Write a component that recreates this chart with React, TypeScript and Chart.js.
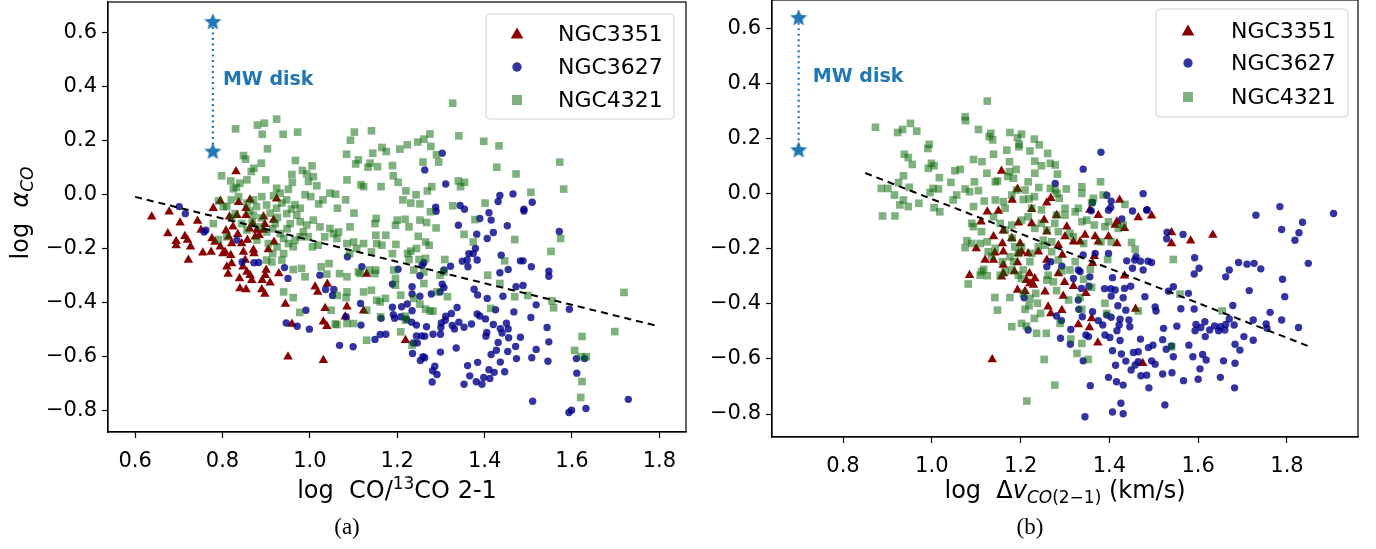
import React, { useEffect, useRef } from 'react';
import { Chart, registerables } from 'chart.js';
Chart.register(...registerables);

type P = [number, number];

// ---------- tick labels ----------
const yTickValues = [-0.8, -0.6, -0.4, -0.2, 0.0, 0.2, 0.4, 0.6];
const xTickValuesA = [0.6, 0.8, 1.0, 1.2, 1.4, 1.6, 1.8];
const xTickValuesB = [0.8, 1.0, 1.2, 1.4, 1.6, 1.8];
const seriesNames = ['NGC3351', 'NGC3627', 'NGC4321'];

// ---------- MW disk ----------
const mwY = [0.64, 0.16];
const mwXA = [0.778, 0.778];
const mwXB = [0.70, 0.70];
const mwLabelA: P = [0.801, 0.423];
const mwLabelB: P = [0.732, 0.423];

// ---------- fit lines ----------
const fitA: P[] = [[0.6, -0.01], [1.8, -0.49]];
const fitB: P[] = [[0.85, 0.075], [1.85, -0.555]];

// ---------- panel (a): log CO/13CO ----------
const aNGC3351: P[] = [
  [0.831,0.084],[0.795,-0.025],[0.837,-0.030],[0.863,-0.021],[0.924,-0.017],[0.779,-0.052],[0.854,-0.052],
  [0.638,-0.084],[0.678,-0.065],[0.703,-0.106],[0.743,-0.099],[0.675,-0.146],[0.694,-0.174],[0.694,-0.190],
  [0.714,-0.156],[0.720,-0.170],[0.727,-0.195],[0.722,-0.244],[0.751,-0.133],[0.755,-0.217],[0.774,-0.214],
  [0.776,-0.164],[0.783,-0.177],[0.795,-0.195],[0.801,-0.220],[0.806,-0.214],[0.816,-0.084],[0.824,-0.121],
  [0.814,-0.158],[0.821,-0.183],[0.819,-0.226],[0.821,-0.257],[0.810,-0.269],[0.813,-0.296],[0.839,-0.312],
  [0.840,-0.349],[0.854,-0.353],[0.848,-0.214],[0.852,-0.244],[0.847,-0.269],[0.856,-0.288],[0.863,-0.300],
  [0.867,-0.319],[0.871,-0.207],[0.875,-0.158],[0.879,-0.133],[0.833,-0.078],[0.854,-0.078],[0.869,-0.109],
  [0.894,-0.084],[0.897,-0.111],[0.894,-0.133],[0.917,-0.096],[0.918,-0.177],[0.900,-0.281],[0.898,-0.300],
  [0.891,-0.319],[0.909,-0.328],[0.890,-0.353],[0.897,-0.370],[0.929,-0.294],[0.872,-0.220],[0.857,-0.170],
  [0.844,-0.183],[0.944,-0.407],[0.959,-0.481],[0.950,-0.602],[1.031,-0.615],[1.012,-0.343],[1.018,-0.362],
  [1.040,-0.333],[1.035,-0.423],[1.085,-0.417],[1.081,-0.454],[1.031,-0.473],[1.039,-0.489],[1.123,-0.432],
  [1.130,-0.296],[1.219,-0.541],[0.862,-0.128],[0.884,-0.152],[0.808,-0.135],[0.835,-0.148],[0.905,-0.205],
];
const aNGC3627: P[] = [
  [0.701,-0.046],[1.303,0.152],[1.263,0.090],[1.311,0.038],[1.435,-0.005],[1.431,-0.027],[1.465,0.001],
  [1.509,-0.030],[1.490,-0.056],[1.288,-0.048],[1.344,-0.042],[1.354,-0.056],
  [0.715,-0.072],[0.758,-0.140],[0.762,-0.133],[0.833,-0.170],[0.845,-0.251],[0.872,-0.254],[0.883,-0.253],
  [0.942,-0.272],[0.950,-0.312],[0.991,-0.430],[0.946,-0.477],[0.971,-0.489],[0.999,-0.500],[1.023,-0.300],
  [1.036,-0.353],[1.055,-0.353],[1.052,-0.375],[1.086,-0.232],[1.119,-0.269],[1.116,-0.405],[1.117,-0.485],
  [1.083,-0.454],[1.068,-0.560],[1.099,-0.565],[1.149,-0.538],[1.161,-0.520],[1.174,-0.519],[1.163,-0.460],
  [1.289,-0.063],[1.340,-0.115],[1.389,-0.090],[1.410,-0.069],[1.415,-0.096],[1.452,-0.117],[1.490,-0.062],
  [1.382,-0.148],[1.420,-0.142],[1.406,-0.164],[1.379,-0.201],[1.374,-0.220],[1.364,-0.220],[1.360,-0.244],
  [1.349,-0.248],[1.362,-0.269],[1.383,-0.244],[1.322,-0.267],[1.307,-0.281],[1.261,-0.254],[1.257,-0.263],
  [1.202,-0.278],[1.252,-0.302],[1.234,-0.343],[1.303,-0.333],[1.307,-0.346],[1.298,-0.362],[1.278,-0.370],
  [1.252,-0.378],[1.234,-0.370],[1.376,-0.352],[1.384,-0.373],[1.406,-0.386],[1.438,-0.226],[1.435,-0.291],
  [1.454,-0.279],[1.482,-0.247],[1.488,-0.247],[1.507,-0.269],[1.547,-0.285],[1.547,-0.304],[1.571,-0.138],
  [1.472,-0.343],[1.488,-0.338],[1.442,-0.378],[1.518,-0.410],[1.594,-0.426],[1.425,-0.428],[1.467,-0.436],
  [1.506,-0.457],[1.543,-0.494],[1.547,-0.547],[1.518,-0.575],[1.508,-0.606],[1.545,-0.619],[1.473,-0.609],
  [1.471,-0.564],[1.453,-0.583],[1.482,-0.530],[1.455,-0.532],[1.450,-0.478],[1.454,-0.499],[1.436,-0.498],
  [1.440,-0.514],[1.420,-0.483],[1.405,-0.512],[1.403,-0.526],[1.431,-0.549],[1.427,-0.578],[1.415,-0.594],
  [1.436,-0.622],[1.446,-0.658],[1.422,-0.660],[1.410,-0.650],[1.412,-0.683],[1.398,-0.679],[1.394,-0.704],
  [1.381,-0.695],[1.366,-0.673],[1.353,-0.704],[1.384,-0.623],[1.361,-0.635],[1.402,-0.462],[1.389,-0.451],
  [1.383,-0.444],[1.370,-0.481],[1.353,-0.493],[1.341,-0.474],[1.337,-0.420],[1.324,-0.442],[1.311,-0.452],
  [1.310,-0.467],[1.301,-0.477],[1.300,-0.494],[1.299,-0.519],[1.326,-0.486],[1.331,-0.499],[1.282,-0.519],
  [1.267,-0.491],[1.263,-0.526],[1.256,-0.525],[1.244,-0.525],[1.244,-0.485],[1.233,-0.474],[1.221,-0.463],
  [1.208,-0.454],[1.194,-0.460],[1.191,-0.446],[1.210,-0.417],[1.223,-0.407],[1.189,-0.419],[1.246,-0.551],
  [1.235,-0.590],[1.237,-0.551],[1.259,-0.602],[1.253,-0.616],[1.263,-0.606],[1.299,-0.585],[1.335,-0.570],
  [1.286,-0.637],[1.281,-0.654],[1.291,-0.668],[1.280,-0.696],[1.234,-0.432],[1.189,-0.333],[1.510,-0.767],
  [1.593,-0.809],[1.599,-0.800],[1.632,-0.794],[1.729,-0.760],[1.610,-0.609],[1.611,-0.663],[1.629,-0.609],
];
const aNGC4321: P[] = [
  [0.924,0.278],[0.896,0.263],[0.880,0.256],[0.830,0.242],[0.891,0.222],[0.939,0.222],[0.972,0.230],
  [0.903,0.168],[0.848,0.143],[0.853,0.130],[0.889,0.115],[0.872,0.096],[0.866,0.084],[0.798,0.068],
  [0.819,0.049],[0.832,0.025],[0.825,0.020],[0.840,0.041],[0.856,0.053],[0.899,0.053],[0.924,0.022],
  [0.951,0.018],[0.967,0.125],[1.005,0.105],[0.983,0.088],[0.959,0.073],[0.993,0.075],[1.008,0.065],
  [0.960,0.044],[0.997,0.047],[1.016,0.031],[1.046,0.004],[1.059,0.000],[1.082,-0.021],[1.063,-0.052],
  [1.084,0.148],[1.102,0.230],[1.141,0.235],[1.093,0.200],[1.111,0.127],[1.144,0.152],[1.165,0.173],
  [1.175,0.158],[1.105,0.112],[1.138,0.115],[1.133,0.100],[1.155,0.102],[1.085,0.053],[1.117,0.035],
  [1.123,0.028],[1.163,0.028],[0.989,-0.002],[1.002,-0.009],[1.030,-0.021],[1.020,-0.036],[0.966,-0.039],
  [0.978,-0.052],[0.947,-0.021],[0.936,-0.033],[0.917,-0.006],[0.932,0.004],[0.890,-0.009],[0.871,-0.021],
  [0.878,-0.046],[0.901,-0.040],[0.924,-0.052],[0.856,-0.033],[0.837,-0.009],[0.820,-0.021],[0.810,-0.046],
  [0.791,-0.025],[0.802,-0.046],
  [1.327,0.337],[1.275,0.223],[1.261,0.204],[1.247,0.193],[1.223,0.183],[1.206,0.167],[1.277,0.177],
  [1.341,0.216],[1.398,0.196],[1.433,0.179],[1.290,0.146],[1.295,0.119],[1.259,0.119],[1.189,0.106],
  [1.191,0.068],[1.202,0.044],[1.220,0.012],[1.243,-0.002],[1.269,0.012],[1.279,0.028],[1.340,0.049],
  [1.354,0.044],[1.345,0.028],[1.428,0.100],[1.472,0.075],[1.572,0.119],[1.581,0.019],[1.506,0.007],
  [1.401,-0.033],[1.327,-0.043],[1.213,-0.021],[1.231,-0.033],[1.252,-0.036],
  [0.779,-0.109],[0.791,-0.168],[0.810,-0.158],[0.829,-0.072],[0.844,-0.109],[0.856,-0.133],[0.871,-0.078],
  [0.879,-0.170],[0.886,-0.121],[0.901,-0.140],[0.905,-0.183],[0.915,-0.220],[0.901,-0.244],[0.913,-0.251],
  [0.932,-0.146],[0.940,-0.164],[0.951,-0.183],[0.962,-0.195],[0.940,-0.220],[0.936,-0.244],[0.947,-0.072],
  [0.970,-0.078],[0.978,-0.102],[0.993,-0.114],[1.008,-0.096],[1.023,-0.121],[1.046,-0.127],[1.054,-0.146],
  [1.066,-0.140],[1.092,-0.121],[1.062,-0.164],[1.019,-0.189],[1.006,-0.195],[0.981,-0.275],[0.989,-0.306],
  [0.962,-0.279],[1.026,-0.269],[1.044,-0.257],[1.039,-0.296],[1.068,-0.294],[1.085,-0.306],[1.085,-0.362],
  [1.083,-0.383],[1.063,-0.375],[0.940,-0.362],[0.962,-0.383],[0.977,-0.438],[1.049,-0.430],[1.058,-0.481],
  [1.062,-0.483],[1.085,-0.479],[1.100,-0.479],[1.130,-0.541],[1.130,-0.430],[1.123,-0.362],[1.141,-0.356],
  [1.153,-0.393],[1.161,-0.399],[1.173,-0.386],[1.162,-0.454],[1.149,-0.294],[1.151,-0.281],[1.136,-0.281],
  [1.115,-0.294],[1.100,-0.177],[1.085,-0.183],[1.091,-0.220],[1.107,-0.201],[1.123,-0.183],[1.141,-0.214],
  [1.153,-0.183],[1.165,-0.189],[1.174,-0.152],[1.151,-0.152],[1.149,-0.109],[1.152,-0.090],[1.111,-0.288],
  [0.985,-0.140],[0.955,-0.109],[0.921,-0.109],[0.978,-0.158],[0.966,-0.170],[0.925,-0.195],[1.101,-0.070],
  [0.909,-0.070],[0.862,-0.062],[0.889,-0.088],[0.915,-0.128],[0.948,-0.128],[0.996,-0.158],[1.034,-0.158],
  [0.926,-0.086],[0.958,-0.055],[0.868,-0.104],[0.821,-0.089],
  [1.200,-0.096],[1.218,-0.093],[1.196,-0.115],[1.227,-0.121],[1.252,-0.096],[1.267,-0.105],[1.289,-0.125],
  [1.276,-0.065],[1.248,-0.156],[1.265,-0.177],[1.273,-0.189],[1.197,-0.186],[1.189,-0.220],[1.224,-0.220],
  [1.231,-0.211],[1.244,-0.201],[1.227,-0.242],[1.250,-0.242],[1.265,-0.238],[1.309,-0.242],[1.238,-0.281],
  [1.261,-0.288],[1.307,-0.288],[1.298,-0.300],[1.192,-0.281],[1.196,-0.312],[1.261,-0.331],[1.196,-0.337],
  [1.208,-0.374],[1.238,-0.386],[1.252,-0.407],[1.315,-0.380],[1.291,-0.362],[1.265,-0.426],[1.275,-0.433],
  [1.282,-0.433],[1.219,-0.452],[1.219,-0.467],[1.208,-0.510],[1.234,-0.559],[1.353,-0.149],[1.374,-0.177],
  [1.378,-0.094],[1.407,-0.300],[1.435,-0.331],[1.446,-0.247],[1.469,-0.168],[1.469,-0.380],[1.499,-0.375],
  [1.414,-0.423],[1.552,-0.212],[1.574,-0.164],[1.554,-0.395],[1.558,-0.421],[1.719,-0.364],[1.698,-0.509],
  [1.623,-0.527],[1.606,-0.579],[1.621,-0.602],[1.633,-0.602],[1.623,-0.694],[1.620,-0.753],
];

// ---------- panel (b): log Δv ----------
const bNGC3351: P[] = [
  [1.157,0.082],[1.193,0.017],[1.181,-0.023],[1.259,-0.033],[1.268,-0.017],[1.225,-0.057],
  [1.423,-0.023],[1.356,-0.059],
  [1.125,-0.066],[1.150,-0.063],[1.111,-0.102],[1.161,-0.135],[1.139,-0.156],[1.100,-0.199],[1.159,-0.181],
  [1.161,-0.211],[1.142,-0.215],[1.120,-0.241],[1.139,-0.241],[1.195,-0.106],[1.180,-0.162],[1.199,-0.181],
  [1.202,-0.211],[1.195,-0.217],[1.217,-0.217],[1.240,-0.211],[1.225,-0.108],[1.253,-0.096],[1.259,-0.138],
  [1.259,-0.241],[1.161,-0.259],[1.193,-0.250],[1.186,-0.283],[1.161,-0.290],[1.157,-0.302],[1.085,-0.296],
  [1.220,-0.290],[1.232,-0.308],[1.221,-0.326],[1.229,-0.332],[1.213,-0.314],[1.193,-0.350],[1.210,-0.354],
  [1.255,-0.356],[1.262,-0.411],[1.268,-0.435],[1.136,-0.602],
  [1.495,-0.080],[1.465,-0.087],[1.540,-0.141],[1.540,-0.181],[1.583,-0.171],[1.633,-0.150],[1.417,-0.102],
  [1.434,-0.126],[1.434,-0.298],[1.459,-0.419],[1.475,-0.616],[1.374,-0.541],[1.355,-0.486],[1.360,-0.453],
  [1.330,-0.475],[1.293,-0.423],[1.347,-0.362],[1.319,-0.336],[1.296,-0.372],[1.299,-0.322],[1.366,-0.227],
  [1.362,-0.253],[1.294,-0.223],[1.285,-0.290],[1.300,-0.156],[1.319,-0.175],[1.334,-0.175],[1.345,-0.150],
  [1.368,-0.156],[1.375,-0.175],[1.398,-0.156],[1.417,-0.181],[1.413,-0.114],[1.375,-0.078],[1.281,-0.078],
  [1.304,-0.120],[1.285,-0.187],
];
const bNGC3627: P[] = [
  [1.278,0.037],[1.381,0.150],[1.341,0.089],[1.394,-0.006],[1.404,-0.027],[1.362,-0.032],[1.403,-0.050],
  [1.476,0.000],[1.485,-0.058],[1.359,-0.062],[1.784,-0.047],[1.428,-0.092],
  [1.268,-0.247],[1.259,-0.265],[1.208,-0.378],[1.217,-0.495],
  [1.398,-0.060],[1.452,-0.063],[1.484,-0.060],[1.730,-0.078],[1.905,-0.072],[1.788,-0.130],[1.835,-0.104],
  [1.827,-0.142],[1.818,-0.169],[1.848,-0.253],[1.790,-0.311],[1.795,-0.374],[1.715,-0.352],[1.762,-0.431],
  [1.788,-0.459],[1.826,-0.486],[1.753,-0.473],[1.755,-0.489],[1.724,-0.459],[1.724,-0.532],[1.703,-0.519],
  [1.694,-0.568],[1.683,-0.547],[1.683,-0.616],[1.682,-0.705],[1.681,-0.477],[1.678,-0.406],[1.670,-0.455],
  [1.662,-0.475],[1.660,-0.495],[1.650,-0.483],[1.646,-0.498],[1.637,-0.480],[1.626,-0.495],[1.616,-0.519],
  [1.606,-0.486],[1.615,-0.465],[1.595,-0.475],[1.593,-0.498],[1.591,-0.419],[1.657,-0.607],[1.650,-0.667],
  [1.610,-0.584],[1.618,-0.604],[1.604,-0.636],[1.600,-0.674],[1.588,-0.592],[1.579,-0.550],[1.567,-0.679],
  [1.691,-0.250],[1.710,-0.256],[1.726,-0.253],[1.741,-0.273],[1.670,-0.277],[1.662,-0.302],[1.602,-0.271],
  [1.591,-0.292],[1.592,-0.233],[1.578,-0.362],[1.561,-0.418],[1.552,-0.481],[1.544,-0.338],[1.533,-0.354],
  [1.522,-0.489],[1.520,-0.530],[1.528,-0.565],[1.540,-0.553],[1.544,-0.592],[1.541,-0.650],[1.520,-0.655],
  [1.525,-0.767],[1.503,-0.411],[1.505,-0.426],[1.480,-0.374],[1.495,-0.250],[1.487,-0.245],[1.470,-0.245],
  [1.476,-0.277],[1.457,-0.241],[1.460,-0.229],[1.452,-0.271],[1.448,-0.336],[1.439,-0.244],[1.434,-0.344],
  [1.431,-0.378],[1.407,-0.305],[1.413,-0.350],[1.403,-0.345],[1.389,-0.345],[1.404,-0.372],[1.419,-0.407],
  [1.437,-0.423],[1.424,-0.456],[1.422,-0.477],[1.446,-0.483],[1.444,-0.459],[1.417,-0.498],[1.404,-0.449],
  [1.394,-0.441],[1.385,-0.477],[1.375,-0.461],[1.362,-0.429],[1.339,-0.447],[1.331,-0.420],[1.330,-0.386],
  [1.313,-0.493],[1.290,-0.525],[1.312,-0.547],[1.347,-0.513],[1.353,-0.519],[1.390,-0.513],[1.401,-0.522],
  [1.424,-0.533],[1.470,-0.528],[1.488,-0.559],[1.498,-0.550],[1.465,-0.574],[1.454,-0.577],[1.427,-0.582],
  [1.407,-0.570],[1.437,-0.608],[1.414,-0.623],[1.465,-0.610],[1.458,-0.622],[1.449,-0.640],[1.471,-0.661],
  [1.484,-0.659],[1.495,-0.607],[1.503,-0.619],[1.489,-0.705],[1.431,-0.695],[1.416,-0.683],[1.398,-0.667],
  [1.357,-0.697],[1.426,-0.761],[1.407,-0.793],[1.431,-0.799],[1.345,-0.810],[1.341,-0.607],[1.356,-0.302],
  [1.354,-0.336],[1.341,-0.223],[1.368,-0.217],[1.398,-0.217],[1.334,-0.283],[1.337,-0.344],[1.292,-0.461],
  [1.281,-0.444],[1.293,-0.263],[1.319,-0.308],[1.330,-0.277],[1.530,-0.140],[1.529,-0.164],[1.566,-0.148],
];
const bNGC4321: P[] = [
  [1.125,0.336],[1.075,0.279],[1.076,0.265],[0.873,0.241],[0.952,0.255],[0.934,0.233],[0.923,0.222],
  [0.966,0.227],[1.105,0.233],[1.133,0.219],[1.129,0.207],[1.137,0.195],[1.176,0.222],[1.202,0.216],
  [1.193,0.203],[1.231,0.198],[1.197,0.179],[1.196,0.170],[1.242,0.177],[1.169,0.158],[1.221,0.155],
  [1.261,0.146],[0.994,0.179],[0.991,0.164],[0.938,0.143],[0.947,0.131],[0.956,0.106],[1.139,0.143],
  [1.094,0.124],[1.113,0.116],[1.175,0.116],[1.232,0.118],[1.247,0.101],[1.267,0.110],[0.999,0.110],
  [1.005,0.101],[0.992,0.092],[1.052,0.083],[1.064,0.088],[1.017,0.058],[0.936,0.065],[1.124,0.074],
  [1.175,0.080],[1.190,0.088],[1.148,0.046],[1.143,0.043],[1.171,0.062],[1.184,0.056],[1.232,0.074],
  [1.217,0.043],[0.925,0.040],[0.886,0.019],[0.901,0.019],[0.949,0.023],[1.003,0.019],[1.015,0.017],
  [0.996,0.004],[1.043,0.041],[1.075,0.017],[1.096,0.043],[1.085,0.007],[1.105,0.011],[1.056,-0.005],
  [0.916,-0.005],[0.936,-0.023],[0.928,-0.041],[0.947,-0.047],[0.971,-0.035],[1.005,-0.051],[1.048,-0.023],
  [1.094,-0.047],[1.118,-0.027],[1.143,-0.023],[1.161,-0.029],[1.180,-0.005],[1.191,0.013],[1.210,0.013],
  [1.206,-0.021],[1.219,-0.019],[1.231,-0.011],[1.241,0.022],[1.267,0.019],[1.165,-0.053],[1.247,-0.059],
  [1.225,-0.053],
  [1.278,0.104],[1.283,0.071],[1.278,0.013],[1.282,0.001],[1.287,-0.017],[1.303,0.017],[1.338,0.025],
  [1.338,0.001],[1.380,0.043],[1.386,-0.005],[1.364,-0.017],[1.360,-0.033],[1.435,-0.039],[1.300,-0.053],
  [1.330,-0.053],
  [0.889,-0.081],[0.917,-0.081],[1.018,-0.066],[1.090,-0.108],[1.094,-0.120],[1.112,-0.138],[1.079,-0.171],
  [1.075,-0.196],[1.090,-0.181],[1.109,-0.181],[1.125,-0.175],[1.127,-0.211],[1.143,-0.199],[1.135,-0.227],
  [1.159,-0.247],[1.176,-0.229],[1.184,-0.247],[1.180,-0.277],[1.165,-0.283],[1.154,-0.296],[1.112,-0.283],
  [1.109,-0.296],[1.125,-0.298],[1.117,-0.275],[1.082,-0.328],[1.142,-0.377],[1.148,-0.423],[1.176,-0.377],
  [1.180,-0.483],[1.202,-0.471],[1.213,-0.481],[1.236,-0.507],[1.258,-0.507],[1.231,-0.453],[1.245,-0.435],
  [1.210,-0.420],[1.219,-0.407],[1.238,-0.398],[1.221,-0.380],[1.206,-0.362],[1.234,-0.362],[1.253,-0.602],
  [1.277,-0.695],[1.214,-0.753],[1.202,-0.308],[1.195,-0.296],[1.206,-0.277],[1.221,-0.247],[1.225,-0.217],
  [1.202,-0.193],[1.187,-0.193],[1.181,-0.162],[1.165,-0.132],[1.154,-0.108],[1.139,-0.084],[1.180,-0.114],
  [1.202,-0.096],[1.217,-0.084],[1.247,-0.108],[1.259,-0.132],[1.277,-0.108],[1.270,-0.175],[1.251,-0.169],
  [1.240,-0.193],[1.270,-0.211],[1.262,-0.296],[1.274,-0.320],[1.259,-0.314],[1.255,-0.187],[1.232,-0.126],
  [1.195,-0.217],
  [1.281,-0.078],[1.300,-0.078],[1.323,-0.066],[1.338,-0.102],[1.349,-0.096],[1.366,-0.114],[1.390,-0.120],
  [1.398,-0.102],[1.420,-0.126],[1.431,-0.114],[1.311,-0.144],[1.319,-0.156],[1.285,-0.138],[1.342,-0.181],
  [1.381,-0.175],[1.404,-0.175],[1.450,-0.177],[1.458,-0.202],[1.396,-0.239],[1.285,-0.241],[1.323,-0.247],
  [1.311,-0.277],[1.293,-0.281],[1.357,-0.275],[1.342,-0.311],[1.360,-0.340],[1.281,-0.352],[1.308,-0.386],
  [1.334,-0.377],[1.390,-0.398],[1.394,-0.435],[1.338,-0.420],[1.289,-0.471],[1.465,-0.426],[1.544,-0.239],
  [1.559,-0.365],[1.654,-0.426],[1.313,-0.528],[1.338,-0.544],[1.327,-0.580],[1.352,-0.602],[1.540,-0.556],
];

// ---------- styles ----------
const RED = '#8b0000';
const BLUE = 'rgba(0,0,139,0.8)';
const GREEN = 'rgba(0,100,0,0.5)';
const MWBLUE = '#1f77b4';
const SANS = '"DejaVu Sans", sans-serif';

type Seg = { t: string; it?: boolean; sub?: boolean; sup?: boolean };

function drawRich(ctx: CanvasRenderingContext2D, segs: Seg[], cx: number, baseline: number, size: number) {
  const font = (s: Seg) => `${s.it ? 'italic ' : ''}${(s.sub || s.sup) ? Math.round(size * 0.7) : size}px ${SANS}`;
  let total = 0;
  const ws = segs.map((s) => { ctx.font = font(s); const w = ctx.measureText(s.t).width; total += w; return w; });
  let x = cx - total / 2;
  ctx.textAlign = 'left';
  ctx.textBaseline = 'alphabetic';
  segs.forEach((s, i) => {
    ctx.font = font(s);
    const dy = s.sub ? size * 0.22 : s.sup ? -size * 0.36 : 0;
    ctx.fillText(s.t, x, baseline + dy);
    x += ws[i];
  });
}

function makeStar(size: number, color: string) {
  const c = document.createElement('canvas');
  c.width = size; c.height = size;
  const g = c.getContext('2d')!;
  const cx = size / 2, cy = size / 2 + 0.8, R = size / 2 - 0.5, r = R * 0.45;
  g.beginPath();
  for (let i = 0; i < 10; i++) {
    const a = -Math.PI / 2 + (i * Math.PI) / 5;
    const rad = i % 2 === 0 ? R : r;
    const x = cx + rad * Math.cos(a), y = cy + rad * Math.sin(a);
    if (i === 0) g.moveTo(x, y); else g.lineTo(x, y);
  }
  g.closePath();
  g.fillStyle = color;
  g.fill();
  return c;
}

function drawMarker(ctx: CanvasRenderingContext2D, kind: string, x: number, y: number, color: string) {
  ctx.fillStyle = color;
  ctx.beginPath();
  if (kind === 'tri') {
    ctx.moveTo(x, y - 6.5); ctx.lineTo(x + 6.3, y + 4.5); ctx.lineTo(x - 6.3, y + 4.5); ctx.closePath();
  } else if (kind === 'circ') {
    ctx.arc(x, y, 4.7, 0, Math.PI * 2);
  } else {
    ctx.rect(x - 5, y - 5, 10, 10);
  }
  ctx.fill();
}

interface PanelSpec {
  red: P[]; blue: P[]; green: P[]; fit: P[]; mwX: number[]; mwLabel: P;
  xMin: number; xMax: number; yMin: number; yMax: number; xTicks: number[];
  padRight: number; padTop: number; yAxisW: number; xAxisH: number;
  legend: { dx: number; dy: number; w: number; h: number; mx: number; tx: number; rows: number[] };
  xTitle: Seg[]; yTitle: Seg[] | null; caption: string; captionX: number;
}

const fmt = (v: number) => (v < -1e-9 ? '\u2212' : '') + Math.abs(v).toFixed(1);

function makeConfig(p: PanelSpec, star: HTMLCanvasElement): any {
  const pts = (a: P[]) => a.map(([x, y]) => ({ x, y }));
  const textPlugin = {
    id: 'texts',
    afterDraw(chart: any) {
      const ctx = chart.ctx as CanvasRenderingContext2D;
      const ca = chart.chartArea;
      const xs = chart.scales.x, ys = chart.scales.y;
      ctx.save();
      ctx.strokeStyle = '#000';
      ctx.lineWidth = 1.2;
      ctx.strokeRect(ca.left, ca.top, ca.right - ca.left, ca.bottom - ca.top);
      ctx.fillStyle = MWBLUE;
      ctx.font = `bold 19px ${SANS}`;
      ctx.textAlign = 'left';
      ctx.textBaseline = 'middle';
      ctx.fillText('MW disk', xs.getPixelForValue(p.mwLabel[0]), ys.getPixelForValue(p.mwLabel[1]));
      const L = p.legend;
      const bx = ca.right - L.dx - L.w, by = ca.top + L.dy;
      ctx.beginPath();
      (ctx as any).roundRect(bx, by, L.w, L.h, 4);
      ctx.fillStyle = 'rgba(255,255,255,0.8)';
      ctx.fill();
      ctx.strokeStyle = '#d0d0d0';
      ctx.lineWidth = 1;
      ctx.stroke();
      const kinds = ['tri', 'circ', 'sq'];
      const cols = [RED, BLUE, GREEN];
      seriesNames.forEach((n, i) => {
        drawMarker(ctx, kinds[i], bx + L.mx, by + L.rows[i], cols[i]);
        ctx.fillStyle = '#000';
        ctx.font = `22px ${SANS}`;
        ctx.textAlign = 'left';
        ctx.textBaseline = 'middle';
        ctx.fillText(n, bx + L.tx, by + L.rows[i] + 1);
      });
      ctx.fillStyle = '#000';
      drawRich(ctx, p.xTitle, (ca.left + ca.right) / 2, 498, 24);
      if (p.yTitle) {
        ctx.save();
        ctx.translate(28, (ca.top + ca.bottom) / 2 - 4);
        ctx.rotate(-Math.PI / 2);
        drawRich(ctx, p.yTitle, 0, 0, 24);
        ctx.restore();
      }
      ctx.font = '23px "Liberation Serif", "DejaVu Serif", serif';
      ctx.textAlign = 'center';
      ctx.textBaseline = 'alphabetic';
      ctx.fillText(p.caption, p.captionX, 534);
      ctx.restore();
    },
  };
  const tickFont = { family: SANS, size: 21 };
  return {
    type: 'scatter',
    data: {
      datasets: [
        { label: 'fit', data: pts(p.fit), showLine: true, borderColor: '#000', borderWidth: 2, borderDash: [7, 5], pointRadius: 0, order: 0 },
        { label: 'MW', data: p.mwX.map((x, i) => ({ x, y: mwY[i] })), showLine: true, borderColor: MWBLUE, borderWidth: 2.2, borderDash: [2, 3.5], pointStyle: star, pointRadius: 9, order: 1 },
        { label: seriesNames[2], data: pts(p.green), pointStyle: 'rect', pointRadius: 5.4, pointBackgroundColor: GREEN, pointBorderWidth: 0, backgroundColor: GREEN, borderColor: GREEN, order: 2 },
        { label: seriesNames[1], data: pts(p.blue), pointStyle: 'circle', pointRadius: 3.7, pointBackgroundColor: BLUE, pointBorderWidth: 0, backgroundColor: BLUE, borderColor: BLUE, order: 3 },
        { label: seriesNames[0], data: pts(p.red), pointStyle: 'triangle', pointRadius: 5.5, pointBackgroundColor: RED, pointBorderWidth: 0, backgroundColor: RED, borderColor: RED, order: 4 },
      ],
    },
    options: {
      animation: false,
      responsive: false,
      events: [],
      layout: { autoPadding: false, padding: { left: 0, right: p.padRight, top: p.padTop, bottom: 0 } },
      plugins: { legend: { display: false }, tooltip: { enabled: false } },
      scales: {
        x: {
          type: 'linear', min: p.xMin, max: p.xMax,
          afterFit: (s: any) => { s.height = p.xAxisH; s.paddingLeft = 0; s.paddingRight = 0; s.paddingTop = 0; s.paddingBottom = 0; },
          afterBuildTicks: (s: any) => { s.ticks = p.xTicks.map((v) => ({ value: v })); },
          ticks: { font: tickFont, color: '#000', padding: 11, maxRotation: 0, autoSkip: false, callback: (v: any) => fmt(Number(v)) },
          grid: { drawOnChartArea: false, drawTicks: true, tickLength: 6, tickColor: '#000', tickWidth: 1.2 },
          border: { display: true, color: '#000', width: 1.2 },
        },
        y: {
          type: 'linear', min: p.yMin, max: p.yMax,
          afterFit: (s: any) => { s.width = p.yAxisW; s.paddingTop = 0; s.paddingBottom = 0; s.paddingLeft = 0; s.paddingRight = 0; },
          afterBuildTicks: (s: any) => { s.ticks = yTickValues.map((v) => ({ value: v })); },
          ticks: { font: tickFont, color: '#000', padding: 5, autoSkip: false, callback: (v: any) => fmt(Number(v)) },
          grid: { drawOnChartArea: false, drawTicks: true, tickLength: 6, tickColor: '#000', tickWidth: 1.2 },
          border: { display: true, color: '#000', width: 1.2 },
        },
      },
    },
    plugins: [textPlugin],
  };
}

const panelA: PanelSpec = {
  red: aNGC3351, blue: aNGC3627, green: aNGC4321, fit: fitA, mwX: mwXA, mwLabel: mwLabelA,
  xMin: 0.538, xMax: 1.861, yMin: -0.881, yMax: 0.712, xTicks: xTickValuesA,
  padRight: 14, padTop: 2, yAxisW: 108, xAxisH: 117,
  legend: { dx: 12, dy: 12, w: 188, h: 105, mx: 31, tx: 72, rows: [20, 53, 86] },
  xTitle: [{ t: 'log  CO/' }, { t: '13', sup: true }, { t: 'CO 2-1' }],
  yTitle: [{ t: 'log  ' }, { t: '\u03b1', it: true }, { t: 'CO', it: true, sub: true }],
  caption: '(a)', captionX: 347,
};

const panelB: PanelSpec = {
  red: bNGC3351, blue: bNGC3627, green: bNGC4321, fit: fitB, mwX: mwXB, mwLabel: mwLabelB,
  xMin: 0.640, xMax: 1.960, yMin: -0.8835, yMax: 0.703, xTicks: xTickValuesB,
  padRight: 18, padTop: 0, yAxisW: 72, xAxisH: 112,
  legend: { dx: 10, dy: 9, w: 192, h: 108, mx: 32, tx: 75, rows: [22, 54, 88] },
  xTitle: [{ t: 'log  \u0394' }, { t: 'v', it: true }, { t: 'CO', it: true, sub: true }, { t: '(2\u22121)', sub: true }, { t: ' (km/s)' }],
  yTitle: null,
  caption: '(b)', captionX: 330,
};

export default function App() {
  const refA = useRef<HTMLCanvasElement>(null);
  const refB = useRef<HTMLCanvasElement>(null);
  useEffect(() => {
    const star = makeStar(19, MWBLUE);
    const a = new Chart(refA.current as HTMLCanvasElement, makeConfig(panelA, star));
    const b = new Chart(refB.current as HTMLCanvasElement, makeConfig(panelB, star));
    return () => { a.destroy(); b.destroy(); };
  }, []);
  return (
    <div style={{ position: 'absolute', left: 0, top: 0, width: 1376, height: 549, background: '#fff' }}>
      <canvas ref={refA} width={700} height={549} style={{ position: 'absolute', left: 0, top: 0, width: 700, height: 549 }} />
      <canvas ref={refB} width={676} height={549} style={{ position: 'absolute', left: 700, top: 0, width: 676, height: 549 }} />
    </div>
  );
}
